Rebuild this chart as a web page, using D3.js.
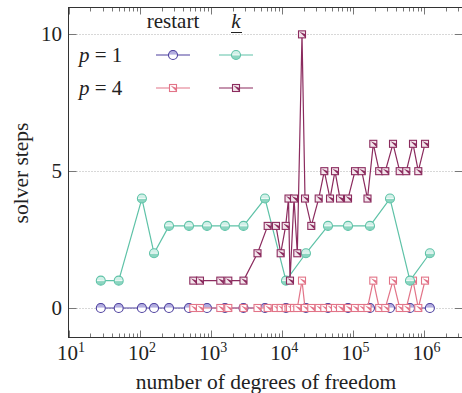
<!DOCTYPE html>
<html>
<head>
<meta charset="utf-8">
<script src="https://cdn.jsdelivr.net/npm/d3@7"></script>
<style>
  body { margin: 0; background: #ffffff; }
</style>
</head>
<body>
<div id="myDiv"></div>
<script>
//--------------------------------------------------
// Data
//--------------------------------------------------
var dofsP1 = [28, 50, 106, 157, 255, 487, 873, 1563, 2845, 5710, 11270, 21500, 43900, 84000, 171000, 327000, 625000, 1190000];
var restartP1 = [0, 0, 0, 0, 0, 0, 0, 0, 0, 0, 0, 0, 0, 0, 0, 0, 0, 0];
var kP1 = [1, 1, 4, 2, 3, 3, 3, 3, 3, 4, 1, 2, 3, 3, 3, 4, 1, 2];

var dofsP4 = [560, 695, 1343, 1740, 2845, 4480, 6230, 8150, 9490, 11160, 12230, 12830, 14610, 16260, 18930,
  20860, 25580, 32500, 39000, 46900, 55100, 64800, 84000, 105400, 131000, 157900, 190500, 230500, 281000,
  360600, 448000, 554500, 689000, 818000, 1017000];
var restartP4 = [0, 0, 0, 0, 0, 0, 0, 0, 0, 0, 0, 0, 0, 0, 1, 0, 0, 0, 0, 0, 0, 0, 0, 0, 0, 0, 1, 0, 0, 1, 0, 0, 1, 0, 1];
var kP4 = [1, 1, 1, 1, 1, 2, 3, 3, 2, 3, 4, 1, 4, 2, 10, 4, 3, 4, 5, 4, 5, 4, 4, 5, 5, 4, 6, 5, 5, 6, 5, 5, 6, 5, 6];

var xTicks = [10, 100, 1000, 10000, 100000, 1000000];
var yTicks = [0, 5, 10];

var xAxisTitle = 'number of degrees of freedom';
var yAxisTitle = 'solver steps';

//--------------------------------------------------
// Properties
//--------------------------------------------------
var colBlue = '#4c3f9e';
var colTeal = '#5ec2a7';
var colPink = '#e27488';
var colPlum = '#8b2b5e';
var fontFamily = 'Liberation Serif';
var textColor = '#222222';

var width = 462, height = 393;
var plot = {left: 68.5, right: 463, top: 7.5, bottom: 337.5};

var svg = d3.select('#myDiv').append('svg')
  .attr('width', width)
  .attr('height', height);

// helper so every label gets the serif font
function addText(parent, size) {
  return parent.append('text')
    .style('font-family', fontFamily)
    .style('font-size', size + 'px')
    .attr('fill', textColor);
}

var x = d3.scaleLog()
  .domain([10, Math.pow(10, 1 + (463 - 69) / 71.1)])
  .range([69, 463]);

var y = d3.scaleLinear()
  .domain([-1.06, 11])
  .range([plot.bottom - 0.5, plot.top - 0.5]);

// Grid lines (dotted)
svg.append('g').selectAll('line')
  .data(yTicks)
  .enter().append('line')
    .attr('x1', plot.left + 8).attr('x2', plot.right - 8)
    .attr('y1', function(d){ return Math.round(y(d)) + 0.5; })
    .attr('y2', function(d){ return Math.round(y(d)) + 0.5; })
    .attr('stroke', '#b0b0b0')
    .attr('stroke-width', 1)
    .attr('stroke-dasharray', '1,2');

// x ticks (major + minor), drawn inside at top and bottom
var minorTicks = [];
for (var e = 1; e <= 6; e++) {
  for (var m = 2; m <= 9; m++) minorTicks.push(m * Math.pow(10, e));
}
var tickG = svg.append('g').attr('stroke', '#555555').attr('stroke-width', 0.8);
xTicks.forEach(function(t) {
  var px = Math.round(x(t)) + 0.5;
  tickG.append('line').attr('x1', px).attr('x2', px).attr('y1', plot.bottom).attr('y2', plot.bottom - 7);
  tickG.append('line').attr('x1', px).attr('x2', px).attr('y1', plot.top).attr('y2', plot.top + 7);
});
minorTicks.forEach(function(t) {
  if (x(t) > plot.right) return;
  var px = Math.round(x(t)) + 0.5;
  tickG.append('line').attr('x1', px).attr('x2', px).attr('y1', plot.bottom).attr('y2', plot.bottom - 4);
  tickG.append('line').attr('x1', px).attr('x2', px).attr('y1', plot.top).attr('y2', plot.top + 4);
});
yTicks.forEach(function(t) {
  var py = Math.round(y(t)) + 0.5;
  tickG.append('line').attr('x1', plot.left).attr('x2', plot.left + 8).attr('y1', py).attr('y2', py);
  tickG.append('line').attr('x1', plot.right).attr('x2', plot.right - 8).attr('y1', py).attr('y2', py);
});

// Frame
svg.append('rect')
  .attr('x', plot.left).attr('y', plot.top)
  .attr('width', plot.right - plot.left).attr('height', plot.bottom - plot.top)
  .attr('fill', 'none')
  .attr('stroke', '#333333')
  .attr('stroke-width', 1);

// Tick labels
var xLabelG = svg.append('g');
xTicks.forEach(function(d) {
  var t = addText(xLabelG, 21)
    .attr('x', x(d) + 2)
    .attr('y', 360)
    .attr('text-anchor', 'middle');
  t.append('tspan').text('10');
  t.append('tspan').attr('dy', -8).style('font-size', '14px').text(Math.round(Math.log10(d)));
});

var yLabelG = svg.append('g');
yTicks.forEach(function(d) {
  addText(yLabelG, 21)
    .attr('x', 62)
    .attr('y', y(d) + 7)
    .attr('text-anchor', 'end')
    .text(d);
});

// Axis titles
addText(svg, 21.5)
  .attr('x', 266)
  .attr('y', 389)
  .attr('text-anchor', 'middle')
  .text(xAxisTitle);

addText(svg, 21.5)
  .attr('transform', 'translate(28,173) rotate(-90)')
  .attr('text-anchor', 'middle')
  .text(yAxisTitle);

//--------------------------------------------------
// Markers
//--------------------------------------------------
function drawCircle(g, cx, cy, color, fillTop, fillBottom) {
  var r = 4.5;
  g.append('path')
    .attr('d', 'M' + (cx - r) + ',' + cy + ' A' + r + ',' + r + ' 0 0 1 ' + (cx + r) + ',' + cy + ' Z')
    .attr('fill', fillTop);
  g.append('path')
    .attr('d', 'M' + (cx - r) + ',' + cy + ' A' + r + ',' + r + ' 0 0 0 ' + (cx + r) + ',' + cy + ' Z')
    .attr('fill', fillBottom);
  g.append('line')
    .attr('x1', cx - r).attr('x2', cx + r).attr('y1', cy).attr('y2', cy)
    .attr('stroke', '#ffffff').attr('stroke-width', 0.8);
  g.append('circle')
    .attr('cx', cx).attr('cy', cy).attr('r', r)
    .attr('fill', 'none')
    .attr('stroke', color)
    .attr('stroke-width', 1.1);
}

function drawSquare(g, cx, cy, color, fill, tri) {
  var s = 3.5;
  g.append('rect')
    .attr('x', cx - s).attr('y', cy - s).attr('width', 2 * s).attr('height', 2 * s)
    .attr('fill', fill);
  // small dark wedge along the diagonal
  g.append('path')
    .attr('d', 'M' + (cx - s + 1) + ',' + (cy - s + 1) + ' L' + (cx + s) + ',' + (cy + s) + ' L' + (cx + s) + ',' + (cy) + ' Z')
    .attr('fill', tri);
  g.append('rect')
    .attr('x', cx - s).attr('y', cy - s).attr('width', 2 * s).attr('height', 2 * s)
    .attr('fill', 'none')
    .attr('stroke', color)
    .attr('stroke-width', 1.1);
}

var series = [
  {xs: dofsP1, ys: restartP1, color: colBlue, kind: 'circle', f1: '#b3aee0', f2: '#ffffff'},
  {xs: dofsP4, ys: restartP4, color: colPink, kind: 'square', f1: '#ffffff', f2: colPink},
  {xs: dofsP1, ys: kP1, color: colTeal, kind: 'circle', f1: '#d2f0e8', f2: '#8bd5c0'},
  {xs: dofsP4, ys: kP4, color: colPlum, kind: 'square', f1: '#f3e6ec', f2: colPlum}
];

var line = d3.line()
  .x(function(d){ return x(d[0]); })
  .y(function(d){ return y(d[1]); });

series.forEach(function(s) {
  var pts = s.xs.map(function(v, i){ return [v, s.ys[i]]; });
  var g = svg.append('g');
  g.append('path')
    .datum(pts)
    .attr('d', line)
    .attr('fill', 'none')
    .attr('stroke', s.color)
    .attr('stroke-width', 1.2);
  pts.forEach(function(p) {
    if (s.kind === 'circle') drawCircle(g, x(p[0]), y(p[1]), s.color, s.f1, s.f2);
    else drawSquare(g, x(p[0]), y(p[1]), s.color, s.f1, s.f2);
  });
});

//--------------------------------------------------
// Legend
//--------------------------------------------------
var legend = svg.append('g').attr('class', 'legend');
addText(legend, 21).attr('x', 173).attr('y', 28).attr('text-anchor', 'middle').text('restart');
addText(legend, 21).attr('x', 236).attr('y', 28).attr('text-anchor', 'middle')
  .style('font-style', 'italic').text('k');
legend.append('line').attr('x1', 231).attr('x2', 242).attr('y1', 32.5).attr('y2', 32.5)
  .attr('stroke', textColor).attr('stroke-width', 1);

var legendRows = [
  {label: '1', y: 55, items: [series[0], series[2]]},
  {label: '4', y: 88, items: [series[1], series[3]]}
];
legendRows.forEach(function(row) {
  var t = addText(legend, 21).attr('x', 79).attr('y', row.y + 7);
  t.append('tspan').style('font-style', 'italic').text('p');
  t.append('tspan').text(' = ' + row.label);
  row.items.forEach(function(s, j) {
    var cx = j === 0 ? 173 : 236;
    var g = legend.append('g');
    g.append('line').attr('x1', cx - 17).attr('x2', cx + 17).attr('y1', row.y).attr('y2', row.y)
      .attr('stroke', s.color).attr('stroke-width', 1.2);
    if (s.kind === 'circle') drawCircle(g, cx, row.y, s.color, s.f1, s.f2);
    else drawSquare(g, cx, row.y, s.color, s.f1, s.f2);
  });
});
</script>
</body>
</html>
